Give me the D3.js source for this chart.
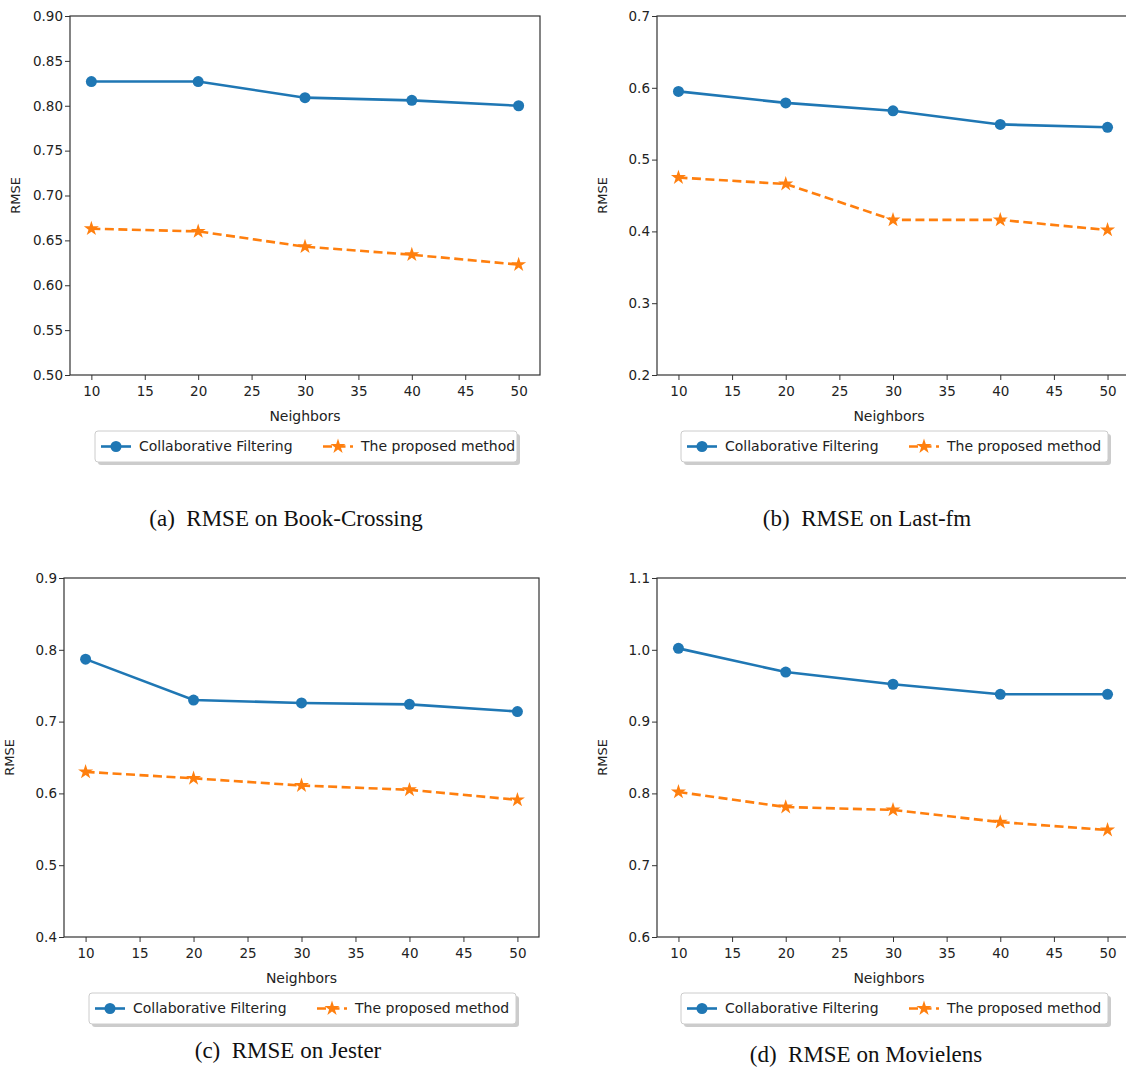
<!DOCTYPE html>
<html>
<head>
<meta charset="utf-8">
<script src="https://cdn.jsdelivr.net/npm/d3@7"></script>
<style>
  body { margin: 0; background: #fff; }
  svg { display: block; }
  .tick text { font-family: "DejaVu Sans", sans-serif; fill: #222; }
</style>
</head>
<body>
<svg id="chart" width="1126" height="1072"></svg>
<script>
// x values shared by all four panels
const neighbors = [10, 20, 30, 40, 50]
const xTicks = [10, 15, 20, 25, 30, 35, 40, 45, 50]

// Book-Crossing
const cfBook = [0.827, 0.827, 0.809, 0.806, 0.800]
const propBook = [0.663, 0.660, 0.643, 0.634, 0.623]
const yTicksBook = [0.50, 0.55, 0.60, 0.65, 0.70, 0.75, 0.80, 0.85, 0.90]

// Last-fm
const cfLast = [0.595, 0.579, 0.568, 0.549, 0.545]
const propLast = [0.475, 0.466, 0.416, 0.416, 0.402]
const yTicksLast = [0.2, 0.3, 0.4, 0.5, 0.6, 0.7]

// Jester
const cfJester = [0.787, 0.730, 0.726, 0.724, 0.714]
const propJester = [0.630, 0.621, 0.611, 0.605, 0.591]
const yTicksJester = [0.4, 0.5, 0.6, 0.7, 0.8, 0.9]

// Movielens
const cfMovie = [1.002, 0.969, 0.952, 0.938, 0.938]
const propMovie = [0.802, 0.781, 0.777, 0.760, 0.749]
const yTicksMovie = [0.6, 0.7, 0.8, 0.9, 1.0, 1.1]

const seriesNames = ["Collaborative Filtering", "The proposed method"]
const captions = [
  "(a)\u00a0\u00a0RMSE on Book-Crossing",
  "(b)\u00a0\u00a0RMSE on Last-fm",
  "(c)\u00a0\u00a0RMSE on Jester",
  "(d)\u00a0\u00a0RMSE on Movielens"
]

const blue = "#1f77b4"
const orange = "#ff7f0e"

/**
 * Panel placement on the page (plot box, legend box, caption).
 */
const panels = [
  { cf: cfBook, prop: propBook, yTicks: yTicksBook, fmt: ".2f", caption: captions[0],
    left: 70, right: 540, top: 16, bottom: 375, legX: 95, legW: 422, capX: 286, capY: 526 },
  { cf: cfLast, prop: propLast, yTicks: yTicksLast, fmt: ".1f", caption: captions[1],
    left: 657, right: 1129, top: 16, bottom: 375, legX: 681, legW: 427, capX: 867, capY: 526 },
  { cf: cfJester, prop: propJester, yTicks: yTicksJester, fmt: ".1f", caption: captions[2],
    left: 64, right: 539, top: 578, bottom: 937, legX: 89, legW: 427, capX: 288, capY: 1058 },
  { cf: cfMovie, prop: propMovie, yTicks: yTicksMovie, fmt: ".1f", caption: captions[3],
    left: 657, right: 1129, top: 578, bottom: 937, legX: 681, legW: 427, capX: 866, capY: 1062 }
]

let svg = d3.select("#chart")

panels.forEach((p) => draw_panel(p))

function draw_panel(p) {
  let g = svg.append("g")

  // matplotlib style 5% padding on x
  const xScale = d3.scaleLinear().domain([8, 52]).range([p.left, p.right])
  const yScale = d3.scaleLinear()
    .domain([p.yTicks[0], p.yTicks[p.yTicks.length - 1]])
    .range([p.bottom, p.top])

  // frame
  g.append("rect")
    .attr("x", p.left).attr("y", p.top)
    .attr("width", p.right - p.left).attr("height", p.bottom - p.top)
    .attr("fill", "none").attr("stroke", "#333").attr("stroke-width", 1.2)

  let x_axis = d3.axisBottom(xScale).tickValues(xTicks).tickFormat(d3.format("d")).tickSize(5).tickSizeOuter(0)
  let y_axis = d3.axisLeft(yScale).tickValues(p.yTicks).tickFormat(d3.format(p.fmt)).tickSize(5).tickSizeOuter(0)

  let gx = g.append("g").attr("transform", `translate(0,${p.bottom})`).call(x_axis)
  let gy = g.append("g").attr("transform", `translate(${p.left},0)`).call(y_axis)
  ;[gx, gy].forEach((a) => {
    a.select(".domain").remove()
    a.selectAll(".tick line").attr("stroke", "#333").attr("stroke-width", 1)
    a.selectAll(".tick text").attr("font-size", 13.5)
  })
  gx.selectAll(".tick text").attr("dy", "0.95em")
  gy.selectAll(".tick text").attr("x", -7)

  // axis labels
  g.append("text")
    .attr("x", (p.left + p.right) / 2 - (p.right > 1100 ? 4 : 0))
    .attr("y", p.bottom + 46)
    .attr("text-anchor", "middle")
    .attr("font-family", "DejaVu Sans, sans-serif")
    .attr("font-size", 14).attr("fill", "#222")
    .text("Neighbors")

  g.append("text")
    .attr("transform", `translate(${p.left - 50},${(p.top + p.bottom) / 2}) rotate(-90)`)
    .attr("text-anchor", "middle")
    .attr("font-family", "DejaVu Sans, sans-serif")
    .attr("font-size", 13).attr("fill", "#222")
    .text("RMSE")

  const line = d3.line().x((d, i) => xScale(neighbors[i])).y((d) => yScale(d))

  // blue series
  g.append("path").datum(p.cf)
    .attr("d", line).attr("fill", "none")
    .attr("stroke", blue).attr("stroke-width", 2.6)
  g.selectAll(".cf_dot").data(p.cf).enter().append("circle")
    .attr("class", "cf_dot")
    .attr("cx", (d, i) => xScale(neighbors[i])).attr("cy", (d) => yScale(d))
    .attr("r", 5.5).attr("fill", blue)

  // orange series
  g.append("path").datum(p.prop)
    .attr("d", line).attr("fill", "none")
    .attr("stroke", orange).attr("stroke-width", 2.6)
    .attr("stroke-dasharray", "9,4.5")
  const star = d3.symbol().type(d3.symbolStar).size(70)
  g.selectAll(".prop_star").data(p.prop).enter().append("path")
    .attr("class", "prop_star")
    .attr("transform", (d, i) => `translate(${xScale(neighbors[i])},${yScale(d)})`)
    .attr("d", star).attr("fill", orange)

  // legend
  const legY = p.bottom + 56
  const legH = 31
  let leg = g.append("g").attr("transform", `translate(${p.legX},${legY})`)
  leg.append("rect")
    .attr("x", 3).attr("y", 3).attr("width", p.legW).attr("height", legH)
    .attr("rx", 3).attr("fill", "#999").attr("opacity", 0.5)
  leg.append("rect")
    .attr("width", p.legW).attr("height", legH)
    .attr("rx", 3).attr("fill", "#fff").attr("stroke", "#ccc")

  const entryX = [6, 228]
  seriesNames.forEach((name, i) => {
    let e = leg.append("g").attr("transform", `translate(${entryX[i]},${legH / 2})`)
    e.append("line").attr("x1", 0).attr("x2", 30)
      .attr("stroke", i === 0 ? blue : orange).attr("stroke-width", 2.6)
      .attr("stroke-dasharray", i === 0 ? null : "9,4.5")
    if (i === 0) {
      e.append("circle").attr("cx", 15).attr("r", 5.5).attr("fill", blue)
    } else {
      e.append("path").attr("transform", "translate(15,0)").attr("d", star).attr("fill", orange)
    }
    e.append("text")
      .attr("x", 38).attr("dy", "0.35em")
      .attr("font-family", "DejaVu Sans, sans-serif")
      .attr("font-size", 14).attr("fill", "#222")
      .text(name)
  })

  // caption under the panel
  g.append("text")
    .attr("x", p.capX).attr("y", p.capY)
    .attr("text-anchor", "middle")
    .attr("font-family", "Liberation Serif, serif")
    .attr("font-size", 23).attr("fill", "#111")
    .text(p.caption)
}
</script>
</body>
</html>
